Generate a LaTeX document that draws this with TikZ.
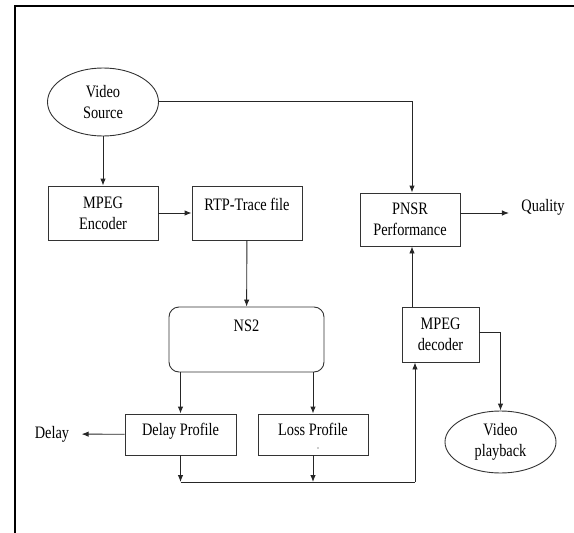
\documentclass[tikz,border=0pt]{standalone}
\usepackage{fontspec}
\setmainfont{Liberation Serif}[FakeStretch=0.82]
\usetikzlibrary{arrows.meta,shapes.geometric}

\begin{document}
\begin{tikzpicture}[x=1pt,y=-1pt,
		font=\fontsize{17.5}{21}\selectfont,
		>={Latex[length=7pt,width=5.5pt]},
		box/.style={draw=black!80, line width=0.9pt, rectangle, align=center, inner sep=2pt},
		oval/.style={draw=black!80, line width=0.9pt, ellipse, align=center, inner sep=0pt},
		wire/.style={draw=black!85, line width=0.9pt}
	]
		\useasboundingbox (0,0) rectangle (574,533);
		
		%% frame
		\draw[line width=2pt] (574,6) -- (15,6) -- (15,533);
		
		\node[oval, minimum width=111pt, minimum height=68pt] (src) at (103,102) {Video\\Source};
		\node[box, minimum width=110pt, minimum height=54pt] (enc) at (103,213) {MPEG\\Encoder};
		\node[box, minimum width=110pt, minimum height=54pt, text depth=17pt] (rtp) at (247,213) {RTP-Trace file};
		\node[box, rounded corners=10pt, minimum width=155pt, minimum height=65pt, text depth=28pt] (ns) at (246.5,339.5) {NS2};
		\node[box, minimum width=111pt, minimum height=41pt, text depth=10pt] (dp) at (180.5,434.5) {Delay Profile};
		\node[box, minimum width=110pt, minimum height=41pt, text depth=10pt] (lp) at (313,434.5) {Loss Profile};
		\fill[black!40] (318,448) circle (0.8pt); %% stray dot in the box
		\node[box, minimum width=100pt, minimum height=53pt] (pnsr) at (410,219.5) {PNSR\\Performance};
		\node[box, minimum width=77pt, minimum height=55pt] (dec) at (440.5,334.5) {MPEG\\decoder};
		\node[oval, minimum width=111pt, minimum height=62pt] (play) at (500.5,442) {Video\\playback};
		\node (qual) at (543,207) {Quality};
		\node (delay) at (52,434) {Delay};
		
		\coordinate (tap) at (412,101);
		\coordinate (bus) at (415,482);
		\coordinate (qarr) at ([xshift=-9pt,yshift=-6pt]qual.west);
		
		\draw[wire,->] (src) -- (enc);
		\draw[wire,->] (enc) -- (rtp);
		\draw[wire,->] (rtp) -- (ns);
		\draw[wire,->] (src.east |- tap) -| (pnsr.north -| tap);
		\draw[wire,->] (pnsr.east |- qarr) -- (qarr);
		\draw[wire,->] (dec.north -| tap) -- (pnsr.south -| tap);
		\draw[wire,->] ([yshift=2.5pt]dec.east) -| (play);
		
		\draw[wire,->] (ns.south -| dp) -- (dp);
		\draw[wire,->] (ns.south -| lp) -- (lp);
		\draw[wire,->, shorten >=9pt] (dp) -- (delay);
		\draw[wire,->] (dp) -- (dp |- bus);
		\draw[wire,->] (lp) -- (lp |- bus);
		\draw[wire] (dp |- bus) -- (bus);
		\draw[wire,->] (bus) -- (bus |- dec.south);
	\end{tikzpicture}
\end{document}
